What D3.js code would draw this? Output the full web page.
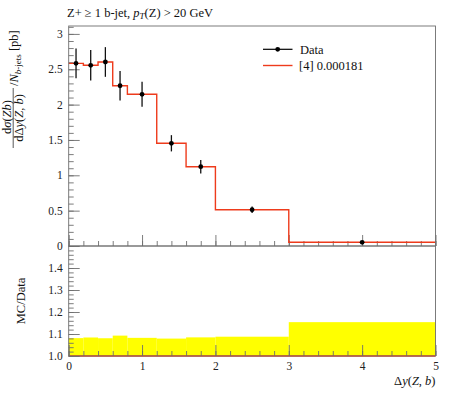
<!DOCTYPE html>
<html>
<head>
<meta charset="utf-8">
<script src="https://cdn.jsdelivr.net/npm/d3@7"></script>
<style>
  body { margin: 0; background: #fff; }
  svg { display: block; font-family: "Liberation Serif", "DejaVu Serif", serif; }
</style>
</head>
<body>
<div id="chart"></div>
<script>
// bin edges in Δy(Z,b)
const binEdges = [0, 0.2, 0.4, 0.6, 0.8, 1.2, 1.6, 2.0, 3.0, 5.0];
// measured data (pb) and its uncertainty
const dataValues = [2.584, 2.556, 2.603, 2.267, 2.146, 1.453, 1.122, 0.513, 0.052];
const dataErrors = [0.21, 0.215, 0.21, 0.21, 0.177, 0.115, 0.095, 0.045, 0.008];
// MC prediction [4]
const mcValues = [2.584, 2.556, 2.603, 2.267, 2.146, 1.453, 1.122, 0.513, 0.052];
const mainTicks = [0, 0.5, 1, 1.5, 2, 2.5, 3];
const ratioTicks = [1.0, 1.1, 1.2, 1.3, 1.4];
const xTicks = [0, 1, 2, 3, 4, 5];

const W = 450, H = 393;
const left = 68.7, right = 435.5;
const mainTop = 26, mainBottom = 246, ratioBottom = 356;
const red = '#ee3b1c', frameColor = '#6e6e6e';

const svg = d3.select('#chart').append('svg').attr('width', W).attr('height', H);

const x = d3.scaleLinear().domain([0, 5]).range([left, right]);
const y = d3.scaleLinear().domain([0, 3.112]).range([mainBottom, mainTop]);
const yr = d3.scaleLinear().domain([1.0, 1.5]).range([ratioBottom, mainBottom]);

const bins = dataValues.map((v, i) => ({
    lo: binEdges[i], hi: binEdges[i + 1], mid: (binEdges[i] + binEdges[i + 1]) / 2,
    val: v, err: dataErrors[i], mc: mcValues[i]
}));

// ---- ratio panel: data uncertainty band
svg.append('g').selectAll('rect')
    .data(bins)
    .enter()
    .append('rect')
    .attr('x', d => x(d.lo))
    .attr('width', d => x(d.hi) - x(d.lo))
    .attr('y', d => yr(1 + d.err / d.val))
    .attr('height', d => yr(1) - yr(1 + d.err / d.val))
    .attr('fill', '#ffff00');

function stepPoints(key, scale) {
    const pts = [];
    bins.forEach(d => { pts.push([x(d.lo), scale(key(d))]); pts.push([x(d.hi), scale(key(d))]); });
    return pts;
}

svg.append('path')
    .attr('d', d3.line()(stepPoints(d => d.mc / d.val, yr)))
    .attr('fill', 'none').attr('stroke', red).attr('stroke-width', 1.4);

// ---- axes helpers
function addAxis(axisFn, scale, values, size, transform, fmt, pad) {
    const g = svg.append('g').attr('transform', transform)
        .call(axisFn(scale).tickValues(values).tickSizeInner(-size).tickSizeOuter(0)
            .tickPadding(pad || 0).tickFormat(fmt || ''));
    g.select('.domain').remove();
    g.selectAll('line').attr('stroke', frameColor).attr('stroke-width', 0.9);
    g.selectAll('text').attr('fill', '#222').attr('font-size', 11.5).attr('font-family', 'Liberation Serif, serif');
    return g;
}
const minorX = d3.range(0, 5.001, 0.2).map(v => +v.toFixed(2));
const minorY = d3.range(0, 3.11, 0.1).map(v => +v.toFixed(2));
const minorR = d3.range(1.0, 1.5, 0.02).map(v => +v.toFixed(2));

// main panel ticks
addAxis(d3.axisBottom, x, minorX, 5, `translate(0,${mainBottom})`);
addAxis(d3.axisBottom, x, xTicks, 11, `translate(0,${mainBottom})`);
addAxis(d3.axisLeft, y, minorY, 5, `translate(${left},0)`);
addAxis(d3.axisLeft, y, mainTicks, 11, `translate(${left},0)`, d3.format('~g'), 6);

// ratio panel ticks
addAxis(d3.axisBottom, x, minorX, 5, `translate(0,${ratioBottom})`);
addAxis(d3.axisBottom, x, xTicks, 11, `translate(0,${ratioBottom})`, d3.format('d'), 6);
addAxis(d3.axisLeft, yr, minorR, 5, `translate(${left},0)`);
addAxis(d3.axisLeft, yr, ratioTicks, 11, `translate(${left},0)`, d3.format('.1f'), 6);

// ---- main panel: MC step histogram
svg.append('path')
    .attr('d', d3.line()(stepPoints(d => d.mc, y)))
    .attr('fill', 'none').attr('stroke', red).attr('stroke-width', 1.4);

// data points with error bars
const pts = svg.append('g');
pts.selectAll('line')
    .data(bins)
    .enter()
    .append('line')
    .attr('x1', d => x(d.mid)).attr('x2', d => x(d.mid))
    .attr('y1', d => y(d.val - d.err)).attr('y2', d => y(d.val + d.err))
    .attr('stroke', '#111').attr('stroke-width', 1.3);
pts.selectAll('circle')
    .data(bins)
    .enter()
    .append('circle')
    .attr('cx', d => x(d.mid)).attr('cy', d => y(d.val))
    .attr('r', 2.4).attr('fill', '#000');

// frames
svg.append('rect').attr('x', left).attr('y', mainTop).attr('width', right - left).attr('height', mainBottom - mainTop)
    .attr('fill', 'none').attr('stroke', frameColor).attr('stroke-width', 0.9);
svg.append('rect').attr('x', left).attr('y', mainBottom).attr('width', right - left).attr('height', ratioBottom - mainBottom)
    .attr('fill', 'none').attr('stroke', frameColor).attr('stroke-width', 0.9);

// ---- legend
const leg = svg.append('g').attr('font-size', 12.5).attr('fill', '#111');
leg.append('line').attr('x1', 263).attr('x2', 292.5).attr('y1', 49.3).attr('y2', 49.3).attr('stroke', '#000').attr('stroke-width', 1.2);
leg.append('circle').attr('cx', 277.7).attr('cy', 49.3).attr('r', 2.4).attr('fill', '#000');
leg.append('text').attr('x', 300).attr('y', 53.5).text('Data');
leg.append('line').attr('x1', 263).attr('x2', 292.5).attr('y1', 65.5).attr('y2', 65.5).attr('stroke', red).attr('stroke-width', 1.4);
leg.append('text').attr('x', 299).attr('y', 69.5).text('[4] 0.000181');

// ---- title
const title = svg.append('text').attr('x', 67).attr('y', 16.5).attr('font-size', 12.5).attr('fill', '#111');
title.append('tspan').text('Z+ ≥ 1 b-jet, ');
title.append('tspan').attr('font-style', 'italic').text('p');
title.append('tspan').attr('font-style', 'italic').attr('font-size', 9).attr('dy', 2.5).text('T');
title.append('tspan').attr('dy', -2.5).text('(Z) > 20 GeV');

// ---- x label
const xl = svg.append('text').attr('x', right).attr('y', 385).attr('text-anchor', 'end').attr('font-size', 12.5).attr('fill', '#111');
xl.append('tspan').text('Δ');
xl.append('tspan').attr('font-style', 'italic').text('y');
xl.append('tspan').text('(');
xl.append('tspan').attr('font-style', 'italic').text('Z');
xl.append('tspan').text(', ');
xl.append('tspan').attr('font-style', 'italic').text('b');
xl.append('tspan').text(')');

// ---- y labels (rotated)
const yl = svg.append('g').attr('transform', 'rotate(-90)').attr('font-size', 12.5).attr('fill', '#111');
const num = yl.append('text').attr('x', -117).attr('y', 10.5).attr('text-anchor', 'middle');
num.append('tspan').text('d');
num.append('tspan').attr('font-style', 'italic').text('σ');
num.append('tspan').text('(');
num.append('tspan').attr('font-style', 'italic').text('Zb');
num.append('tspan').text(')');
yl.append('line').attr('x1', -148).attr('x2', -88).attr('y1', 13.2).attr('y2', 13.2).attr('stroke', '#111').attr('stroke-width', 0.7);
const den = yl.append('text').attr('x', -118).attr('y', 23).attr('text-anchor', 'middle');
den.append('tspan').text('dΔ');
den.append('tspan').attr('font-style', 'italic').text('y');
den.append('tspan').text('(');
den.append('tspan').attr('font-style', 'italic').text('Z');
den.append('tspan').text(', ');
den.append('tspan').attr('font-style', 'italic').text('b');
den.append('tspan').text(')');
const tail = yl.append('text').attr('x', -86).attr('y', 18);
tail.append('tspan').text('/');
tail.append('tspan').attr('font-style', 'italic').text('N');
tail.append('tspan').attr('font-size', 9).attr('dy', 2.5).append('tspan').attr('font-style', 'italic').text('b');
tail.append('tspan').attr('font-size', 9).text('-jets');
tail.append('tspan').attr('dy', -2.5).text(' [pb]');

yl.append('text').attr('x', -301).attr('y', 25).attr('text-anchor', 'middle').text('MC/Data');
</script>
</body>
</html>
